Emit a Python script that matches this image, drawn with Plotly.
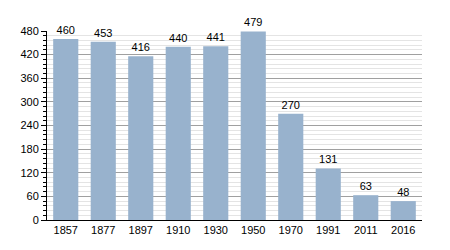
import plotly.graph_objects as go

years = ["1857", "1877", "1897", "1910", "1930", "1950", "1970", "1991", "2011", "2016"]
population = [460, 453, 416, 440, 441, 479, 270, 131, 63, 48]
y_ticks = [0, 60, 120, 180, 240, 300, 360, 420, 480]

fig = go.Figure(go.Bar(
    x=years, y=population,
    text=[str(v) for v in population],
    textposition="outside",
    textfont=dict(size=11, color="#000", family="Liberation Sans, Arial"),
    marker=dict(color="#98b2cd", line=dict(width=0)),
    cliponaxis=False,
))

fig.update_layout(
    width=450, height=250,
    margin=dict(l=47, r=28, t=31, b=30),
    paper_bgcolor="white", plot_bgcolor="white",
    bargap=0.33,
    showlegend=False,
    font=dict(family="Liberation Sans, Arial", size=11, color="#000"),
    xaxis=dict(
        type="category", showline=True, linecolor="#000", linewidth=1,
        ticks="", showgrid=False, tickfont=dict(size=11),
    ),
    yaxis=dict(
        range=[0, 480], tickvals=y_ticks, showline=True, linecolor="#000", linewidth=1,
        ticks="outside", ticklen=5, tickcolor="#000",
        showgrid=True, gridcolor="#a0a0a0", gridwidth=1,
        zeroline=False, tickfont=dict(size=11),
        minor=dict(dtick=12, tick0=0, showgrid=True, gridcolor="#e4e4e4", gridwidth=1,
                   ticks="outside", ticklen=3, tickcolor="#000"),
    ),
)

fig.write_html("out.html")
